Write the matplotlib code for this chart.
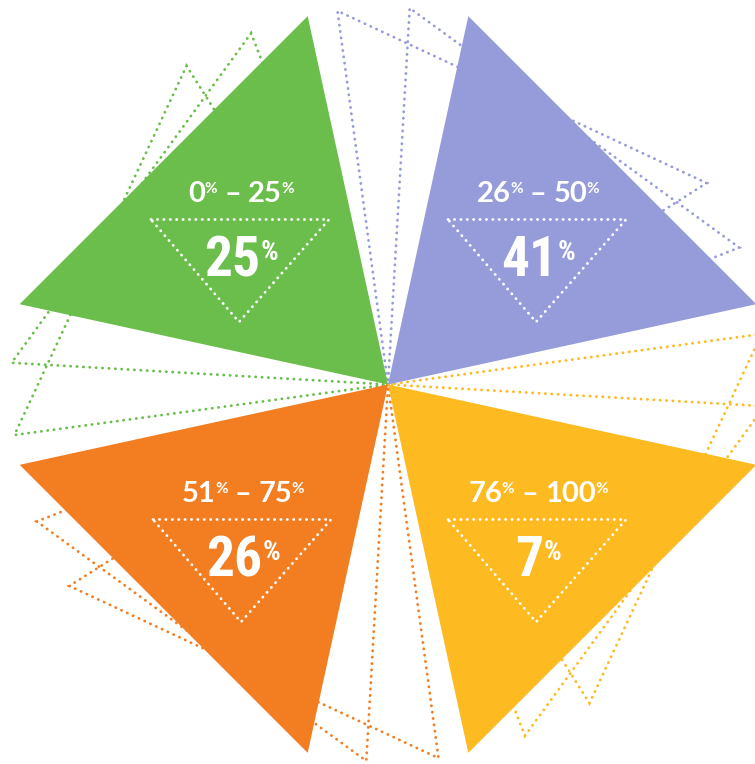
import numpy as np
import matplotlib
matplotlib.use("Agg")
import matplotlib.pyplot as plt
from matplotlib.patches import Polygon
from matplotlib import font_manager

# data
range_lo = ["0", "26", "51", "76"]
range_hi = ["25", "50", "75", "100"]
shares = [25, 41, 26, 7]
colors = ["#6BBE4B", "#969CD9", "#F37E22", "#FDBA21"]

# layout (pixels, y down)
W, H = 755, 764
cx, cy = 388, 384.5
radius = 377
half_angle = 32.7
directions = [135, 45, 225, 315]      # centre line of each triangle, degrees
ghost_turns = [9, 20]                  # dotted copies, rotated
label_x = [240, 537, 242, 537]
label_row = [0, 0, 300, 300]

DOTS = (0, (0.1, 2.2))

# pick a narrow face for the big numbers if one is around
names = {f.name for f in font_manager.fontManager.ttflist}
num_family = "Roboto"
for cand in ["Liberation Sans Narrow", "Roboto Condensed", "DejaVu Sans Condensed"]:
    if cand in names:
        num_family = cand
        break
num_font = [num_family, "DejaVu Sans"]
head_font = ["Lato", "DejaVu Sans"]


def wedge(direction):
    a1 = np.radians(direction - half_angle)
    a2 = np.radians(direction + half_angle)
    return [(cx, cy),
            (cx + radius * np.cos(a1), cy - radius * np.sin(a1)),
            (cx + radius * np.cos(a2), cy - radius * np.sin(a2))]


fig = plt.figure(figsize=(W / 100, H / 100), dpi=100)
ax = fig.add_axes([0, 0, 1, 1])
ax.set_xlim(0, W)
ax.set_ylim(H, 0)
ax.axis("off")

for d, c in zip(directions, colors):
    for t in ghost_turns:
        ax.add_patch(Polygon(wedge(d + t), closed=True, fill=False, ec=c,
                             lw=2.0, ls=DOTS, capstyle="round", zorder=1))
for d, c in zip(directions, colors):
    ax.add_patch(Polygon(wedge(d), closed=True, fc=c, ec="none", zorder=2))

renderer = fig.canvas.get_renderer()


def rich(xc, parts):
    # parts: (text, size, y, va, family, gap_after)
    items = []
    for s, size, y, va, fam, gap in parts:
        t = ax.text(0, y, s, fontsize=size, color="white", va=va, ha="left",
                    family=fam, weight="bold", zorder=4)
        items.append((t, t.get_window_extent(renderer).width, gap))
    total = sum(w + g for _, w, g in items) - items[-1][2]
    x = xc - total / 2
    for t, w, g in items:
        t.set_x(x)
        x += w + g


for lo, hi, v, x0, row in zip(range_lo, range_hi, shares, label_x, label_row):
    base = 202 + row
    top = 182 + row
    rich(x0 + 1, [(lo, 21, base, "baseline", head_font, -0.5),
                  ("%", 11, top, "top", head_font, 7),
                  ("\u2013", 21, base, "baseline", head_font, 7),
                  (hi, 21, base, "baseline", head_font, -0.5),
                  ("%", 11, top, "top", head_font, 0)])

    big_base = 276.5 + row
    big_top = 239 + row
    rich(x0 + 1, [(str(v), 40, big_base, "baseline", num_font, 0),
                  ("%", 20, big_top, "top", num_font, 0)])

    tri = [(x0 - 89, 219.5 + row), (x0 + 89, 219.5 + row), (x0 - 1, 322 + row)]
    ax.add_patch(Polygon(tri, closed=True, fill=False, ec="white", lw=2.0,
                         ls=DOTS, capstyle="round", zorder=3))

fig.savefig("out.png", dpi=100)
